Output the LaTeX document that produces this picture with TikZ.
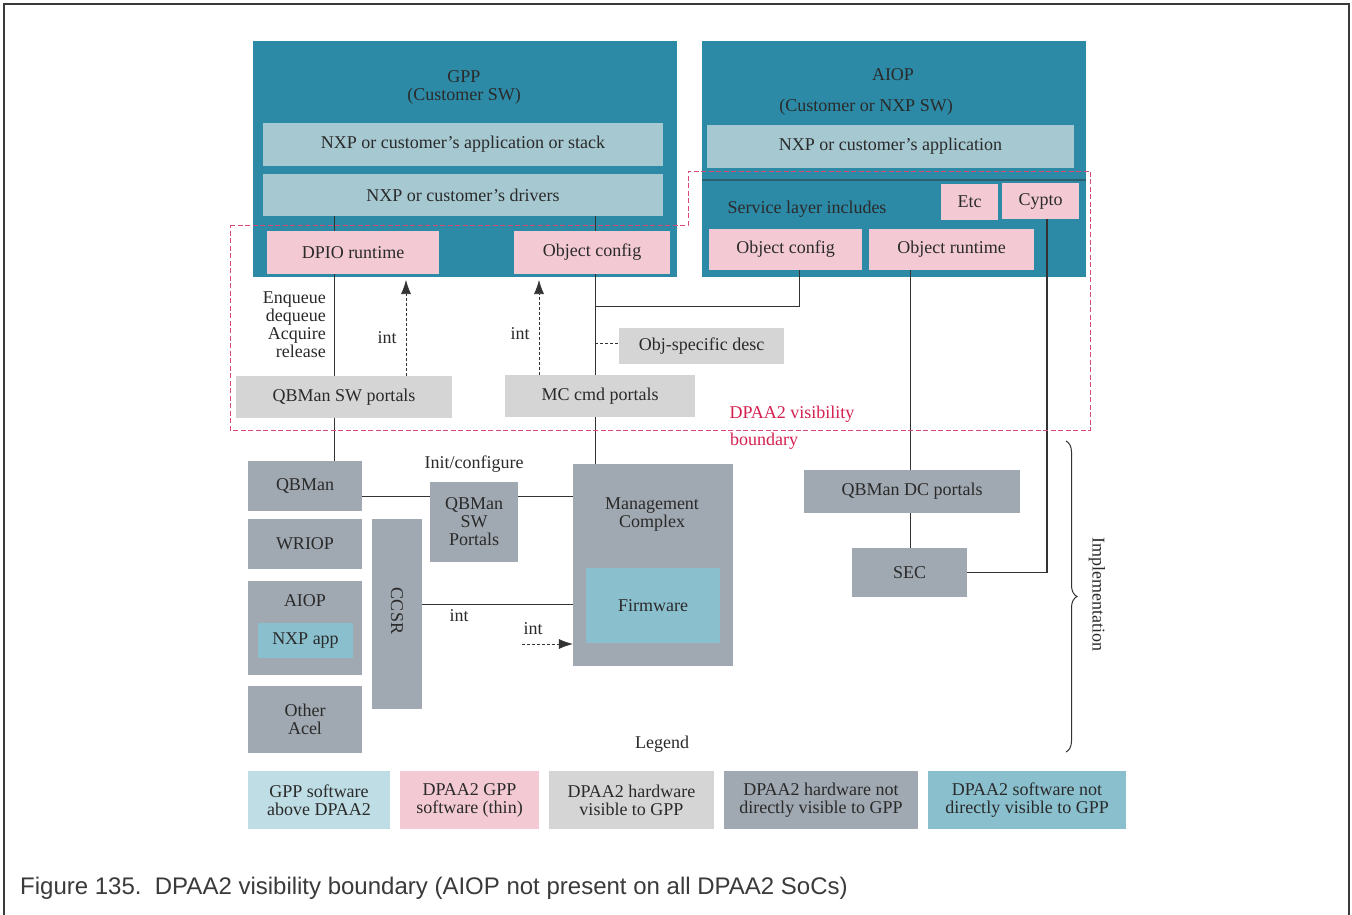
\documentclass[tikz,border=0pt]{standalone}
\usepackage{fontspec}
\setmainfont{Liberation Serif}
\newfontfamily\capfont{Liberation Sans}
\usetikzlibrary{arrows.meta,decorations.pathreplacing}
\definecolor{teal1}{HTML}{2C8AA7}
\definecolor{swc}{HTML}{A6C8D1}
\definecolor{swl}{HTML}{BEDDE5}
\definecolor{pinkc}{HTML}{F3CAD4}
\definecolor{hwv}{HTML}{D5D5D5}
\definecolor{hwn}{HTML}{A0A8B1}
\definecolor{swn}{HTML}{8ABFCE}
\definecolor{crim}{HTML}{D42150}
\definecolor{bnd}{HTML}{D84A72}
\definecolor{txt}{HTML}{2A2A2A}
\definecolor{ln}{HTML}{333333}
\definecolor{dkl}{HTML}{2A5F6E}
\definecolor{frm}{HTML}{3A3A3A}
\begin{document}
\begin{tikzpicture}[x=1pt,y=-1pt,
  every node/.style={font=\fontsize{18}{18}\selectfont, text=txt},
  box/.style={inner sep=0pt, draw=none, align=center},
  bigbox/.style={box, fill=teal1},
  swbox/.style={box, fill=swc},
  thinbox/.style={box, fill=pinkc},
  hwvbox/.style={box, fill=hwv},
  hwnbox/.style={box, fill=hwn},
  swnbox/.style={box, fill=swn},
  conn/.style={draw=ln, line width=1pt},
  dconn/.style={draw=ln, line width=1pt, dash pattern=on 3pt off 2pt},
  tipc/.style={draw=ln, fill=ln, line width=0.6pt, -{Latex[length=14pt,width=10pt]}},
  bound/.style={draw=bnd, line width=1pt, dash pattern=on 5pt off 2.5pt},
  lbl/.style={inner sep=0pt, align=center}
]
\useasboundingbox (0,0) rectangle (1352,915);
\fill[white] (0,0) rectangle (1352,915);
% frame
\draw[frm, line width=2.5pt] (4,915) -- (4,4) -- (1349,4) -- (1349,915);

% ---------- GPP ----------
\node[bigbox, minimum width=424pt, minimum height=236pt] (gpp) at (465,159) {};
\node[lbl] (gppt) at (464,87) {GPP\\(Customer SW)};
\node[swbox, minimum width=400pt, minimum height=43pt] (gapp) at (463,144.5) {NXP or customer’s application or stack};
\node[swbox, minimum width=400pt, minimum height=42pt] (gdrv) at (463,195) {NXP or customer’s drivers};
\node[thinbox, minimum width=172pt, minimum height=43pt] (dpio) at (353,252.5) {DPIO runtime};
\node[thinbox, minimum width=156pt, minimum height=43pt] (gcfg) at (592,252.5) {Object config};

% ---------- AIOP ----------
\node[bigbox, minimum width=384pt, minimum height=236pt] (aiop) at (894,159) {};
\node[lbl] (aiopt) at (893,75) {AIOP};
\node[lbl] (aiops) at (866,107) {(Customer or NXP SW)};
\node[swbox, minimum width=367pt, minimum height=43pt] (aapp) at (890.5,146.5) {NXP or customer’s application};
\coordinate (sl1) at (702,180);
\coordinate (sl2) at (1086,180);
\draw[dkl, line width=2pt] (sl1) -- (sl2);
\node[lbl] (slay) at (807,209) {Service layer includes};
\node[thinbox, minimum width=57pt, minimum height=36pt] (etc) at (969.5,202) {Etc};
\node[thinbox, minimum width=77pt, minimum height=36pt] (cypto) at (1040.5,201) {Cypto};
\node[thinbox, minimum width=153pt, minimum height=41pt] (acfg) at (785.5,249.5) {Object config};
\node[thinbox, minimum width=165pt, minimum height=41pt] (art) at (951.5,249.5) {Object runtime};

% ---------- connectors (drawn under boxes) ----------
\draw[conn] (334,0 |- gdrv.south) -- (334,0 |- dpio.north);
\draw[conn] (595,0 |- gdrv.south) -- (595,0 |- gcfg.north);
\draw[conn] (334,0 |- dpio.south) -- (334,376);
\draw[conn] (595,0 |- gcfg.south) -- (595,375);
\draw[conn] (595,417) -- (595,464);
\coordinate (junc) at (595,306);
\draw[conn] (junc) -| (799,0 |- acfg.south);
\coordinate (odj) at (595,343);
\draw[conn] (910,0 |- art.south) -- (910,470);
\draw[conn] (910,513) -- (910,548);
\draw[conn] (334,418) -- (334,461);

% ---------- visible hardware ----------
\node[hwvbox, minimum width=165pt, minimum height=36pt] (odesc) at (701.5,346) {Obj-specific desc};
\node[hwvbox, minimum width=216pt, minimum height=42pt] (qsp) at (344,397) {QBMan SW portals};
\node[hwvbox, minimum width=190pt, minimum height=42pt] (mcp) at (600,396) {MC cmd portals};
\draw[dconn] (odj) -- (odesc.west |- odj);

\coordinate (a1) at (406,280);
\coordinate (a1b) at (406,294);
\coordinate (a2) at (539,280);
\coordinate (a2b) at (539,294);
\draw[dconn] (406,0 |- qsp.north) -- (a1b);
\draw[tipc] (a1b) -- (a1);
\draw[dconn] (539,0 |- mcp.north) -- (a2b);
\draw[tipc] (a2b) -- (a2);

\node[lbl, align=right, anchor=east] (enq) at (326,325) {Enqueue\\dequeue\\Acquire\\release};
\node[lbl] (int1) at (387,338) {int};
\node[lbl] (int2) at (520,334) {int};

% ---------- not visible hardware ----------
\node[hwnbox, minimum width=114pt, minimum height=50pt] (qbman) at (305,486) {QBMan};
\node[hwnbox, minimum width=114pt, minimum height=50pt] (wriop) at (305,544) {WRIOP};
\node[hwnbox, minimum width=114pt, minimum height=94pt] (aiop2) at (305,628) {};
\node[lbl] (aiop2t) at (305,601) {AIOP};
\node[swnbox, minimum width=95pt, minimum height=35pt] (nxpapp) at (305.5,640.5) {NXP app};
\node[hwnbox, minimum width=114pt, minimum height=67pt] (other) at (305,719.5) {Other\\Acel};
\node[hwnbox, minimum width=50pt, minimum height=190pt] (ccsr) at (397,614) {};
\node[lbl, rotate=-90] (ccsrt) at (397,611) {CCSR};
\node[hwnbox, minimum width=88pt, minimum height=80pt] (qswp) at (474,522) {QBMan\\SW\\Portals};
\node[hwnbox, minimum width=160pt, minimum height=202pt] (mc) at (653,565) {};
\node[lbl] (mct) at (652,515) {Management\\Complex};
\node[swnbox, minimum width=134pt, minimum height=75pt] (fw) at (653,605.5) {Firmware};
\node[hwnbox, minimum width=216pt, minimum height=43pt] (qdc) at (912,491.5) {QBMan DC portals};
\node[hwnbox, minimum width=115pt, minimum height=49pt] (sec) at (909.5,572.5) {SEC};

\node[lbl] (initc) at (474,464) {Init/configure};
\draw[conn] (qbman.east |- 0,496) -- (qswp.west |- 0,496);
\draw[conn] (qswp.east |- 0,496) -- (mc.west |- 0,496);
\draw[conn] (ccsr.east |- 0,604) -- (mc.west |- 0,604);
\node[lbl] (int3) at (459,616) {int};
\coordinate (a3) at (522,644);
\coordinate (a3b) at (558,644);
\draw[dconn] (a3) -- (a3b);
\draw[tipc] (a3b) -- (mc.west |- a3);
\node[lbl] (int4) at (533,629) {int};
\draw[draw=ln, line width=1.2pt] (1047,0 |- cypto.south) |- (sec.east);

% ---------- boundary ----------
\draw[bound] (230,225) -- (688,225) -- (688,171) -- (1090,171) -- (1090,430) -- (230,430) -- cycle;
\node[lbl, text=crim] (bt1) at (792,414) {DPAA2 visibility};
\node[lbl, text=crim] (bt2) at (764,441) {boundary};

% ---------- implementation brace ----------
\coordinate (br1) at (1066,441);
\coordinate (br2) at (1066,752);
\draw[ln, line width=1pt, decorate, decoration={brace, amplitude=11pt}] (br1) -- (br2);
\node[lbl, rotate=-90] (impl) at (1097,594) {Implementation};

% ---------- legend ----------
\node[lbl] (legend) at (662,744) {Legend};
\node[box, fill=swl, minimum width=142pt, minimum height=58pt] (l1) at (319,800) {GPP software\\above DPAA2};
\node[thinbox, minimum width=139pt, minimum height=58pt] (l2) at (469.5,800) {DPAA2 GPP\\software (thin)};
\node[hwvbox, minimum width=165pt, minimum height=58pt] (l3) at (631.5,800) {DPAA2 hardware\\visible to GPP};
\node[hwnbox, minimum width=194pt, minimum height=58pt] (l4) at (821,800) {DPAA2 hardware not\\directly visible to GPP};
\node[swnbox, minimum width=198pt, minimum height=58pt] (l5) at (1027,800) {DPAA2 software not\\directly visible to GPP};

% ---------- caption ----------
\node[inner sep=0pt, anchor=base west, font=\capfont\fontsize{24}{26}\selectfont, text=frm] (cap) at (20,894) {Figure 135.\ \ DPAA2 visibility boundary (AIOP not present on all DPAA2 SoCs)};
\end{tikzpicture}
\end{document}
